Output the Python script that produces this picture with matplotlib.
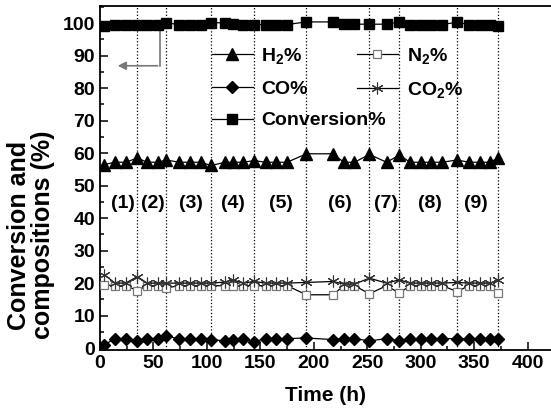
import numpy as np
import matplotlib.pyplot as plt
from matplotlib.ticker import MultipleLocator

plt.rcParams['font.family'] = 'Liberation Sans'
plt.rcParams['font.weight'] = 'bold'
plt.rcParams['mathtext.fontset'] = 'custom'
plt.rcParams['mathtext.bf'] = 'Liberation Sans:bold'
plt.rcParams['mathtext.rm'] = 'Liberation Sans:bold'
plt.rcParams['mathtext.default'] = 'bf'

# Time on stream (h)
time = [4, 14, 24, 35, 44, 54, 62, 74, 84, 94, 104, 117, 124, 134, 144, 155, 165, 175,
        193, 218, 228, 238, 252, 268, 280, 290, 300, 310, 320, 334, 345, 355, 365, 372]
h2 = [56.5, 57.2, 57.2, 58.5, 57.2, 57.2, 57.9, 57.2, 57.2, 57.2, 56.2, 57.2, 57.2, 57.2, 57.7, 57.2, 57.2, 57.2,
      59.8, 59.8, 57.2, 57.2, 59.6, 57.2, 59.4, 57.2, 57.2, 57.2, 57.2, 57.9, 57.2, 57.2, 57.2, 58.5]
n2 = [19.5, 19.2, 19.2, 17.7, 19.2, 19.2, 18.5, 19.2, 19.2, 19.2, 19.2, 19.2, 19.0, 19.2, 19.2, 19.2, 19.2, 19.2,
      16.4, 16.4, 19.2, 19.2, 16.7, 19.2, 16.9, 19.2, 19.2, 19.2, 19.2, 17.4, 19.2, 19.2, 19.2, 16.9]
co = [1.0, 2.9, 2.9, 2.2, 2.9, 2.9, 3.6, 2.9, 2.9, 2.9, 2.6, 2.2, 2.6, 2.9, 2.0, 2.9, 2.9, 2.9,
      3.1, 2.6, 2.9, 2.9, 2.2, 2.9, 2.2, 2.9, 2.9, 2.9, 2.9, 2.9, 2.9, 2.9, 2.9, 2.9]
co2 = [22.6, 20.0, 20.0, 22.0, 20.0, 20.0, 20.0, 20.0, 20.0, 20.0, 20.0, 20.3, 21.0, 20.0, 20.5, 20.0, 20.0, 20.0,
       20.2, 20.5, 19.7, 19.7, 21.5, 20.0, 21.0, 20.0, 20.0, 20.0, 20.0, 20.2, 20.0, 20.0, 20.0, 20.8]
conv = [99.2, 99.5, 99.5, 99.5, 99.5, 99.5, 100.2, 99.5, 99.5, 99.5, 100.2, 100.1, 99.8, 99.5, 99.5, 99.6, 99.6, 99.6,
        100.4, 100.4, 99.7, 99.7, 99.7, 99.7, 100.4, 99.6, 99.6, 99.6, 99.6, 100.3, 99.6, 99.6, 99.6, 99.2]

# Stage boundaries and labels
dividers = [35, 62, 104, 144, 193, 252, 280, 334, 372]
stage_names = ['(1)', '(2)', '(3)', '(4)', '(5)', '(6)', '(7)', '(8)', '(9)']
stage_pos = [21, 49, 85, 124.5, 169, 224, 267.5, 309, 352]

fig = plt.figure(figsize=(5.51, 4.12), dpi=100)
ax = fig.add_axes([100/551, 62/412, 451/551, 344/412])

for d in dividers:
    ax.axvline(d, color='k', ls=':', lw=0.9, zorder=1)

l_h2, = ax.plot(time, h2, 'k-', marker='^', ms=8, lw=0.9, label='H$_2$%', zorder=3)
l_co, = ax.plot(time, co, 'k-', marker='D', ms=6.5, lw=0.9, label='CO%', zorder=3)
l_conv, = ax.plot(time, conv, 'k-', marker='s', ms=6.5, lw=0.9, label='Conversion%', zorder=3)
l_n2, = ax.plot(time, n2, 'k-', marker='s', ms=5.5, mfc='white', mec='#777777', mew=0.9, lw=0.9,
                label='N$_2$%', zorder=3)
l_co2, = ax.plot(time, co2, 'k-', marker=(6, 2, 0), ms=8.5, mec='#333333', mew=0.8, lw=0.9,
                 label='CO$_2$%', zorder=3)

for name, xp in zip(stage_names, stage_pos):
    ax.text(xp, 44.5, name, ha='center', va='center', fontsize=14, fontweight='bold')

# arrow pointing to the left axis
ax.plot([56, 56], [99.3, 86.9], color='#777777', lw=1.2, zorder=2)
ax.annotate('', xy=(14, 86.9), xytext=(56.5, 86.9),
            arrowprops=dict(arrowstyle='-|>', color='#777777', lw=1.2, mutation_scale=12))

ax.set_xlim(0, 421.8)
ax.set_ylim(-0.6, 105.3)
ax.xaxis.set_major_locator(MultipleLocator(50))
ax.xaxis.set_minor_locator(MultipleLocator(25))
ax.yaxis.set_major_locator(MultipleLocator(10))
ax.yaxis.set_minor_locator(MultipleLocator(5))
ax.tick_params(which='both', direction='in', labelsize=14, width=1.1)
ax.tick_params(which='major', length=6)
ax.tick_params(which='minor', length=3)
ax.spines['right'].set_visible(False)
for s in ['left', 'bottom', 'top']:
    ax.spines[s].set_linewidth(1.3)

ax.set_xlabel('Time (h)', fontsize=15, fontweight='bold', labelpad=10)
fig.text(31/551, 1 - 235/412, 'Conversion and\ncompositions (%)', fontsize=18,
         fontweight='bold', rotation=90, ha='center', va='center',
         multialignment='center', linespacing=0.95)

leg_kw = dict(frameon=False, fontsize=14, loc='upper left', handlelength=2.1,
              handletextpad=0.45, labelspacing=0.72, borderpad=0, borderaxespad=0)
leg1 = ax.legend([l_h2, l_co, l_conv], ['H$_2$%', 'CO%', 'Conversion%'],
                 bbox_to_anchor=(0.248, 0.883), **leg_kw)
ax.add_artist(leg1)
ax.legend([l_n2, l_co2], ['N$_2$%', 'CO$_2$%'],
          bbox_to_anchor=(0.570, 0.883), **leg_kw)

fig.savefig('out.png', dpi=100)
